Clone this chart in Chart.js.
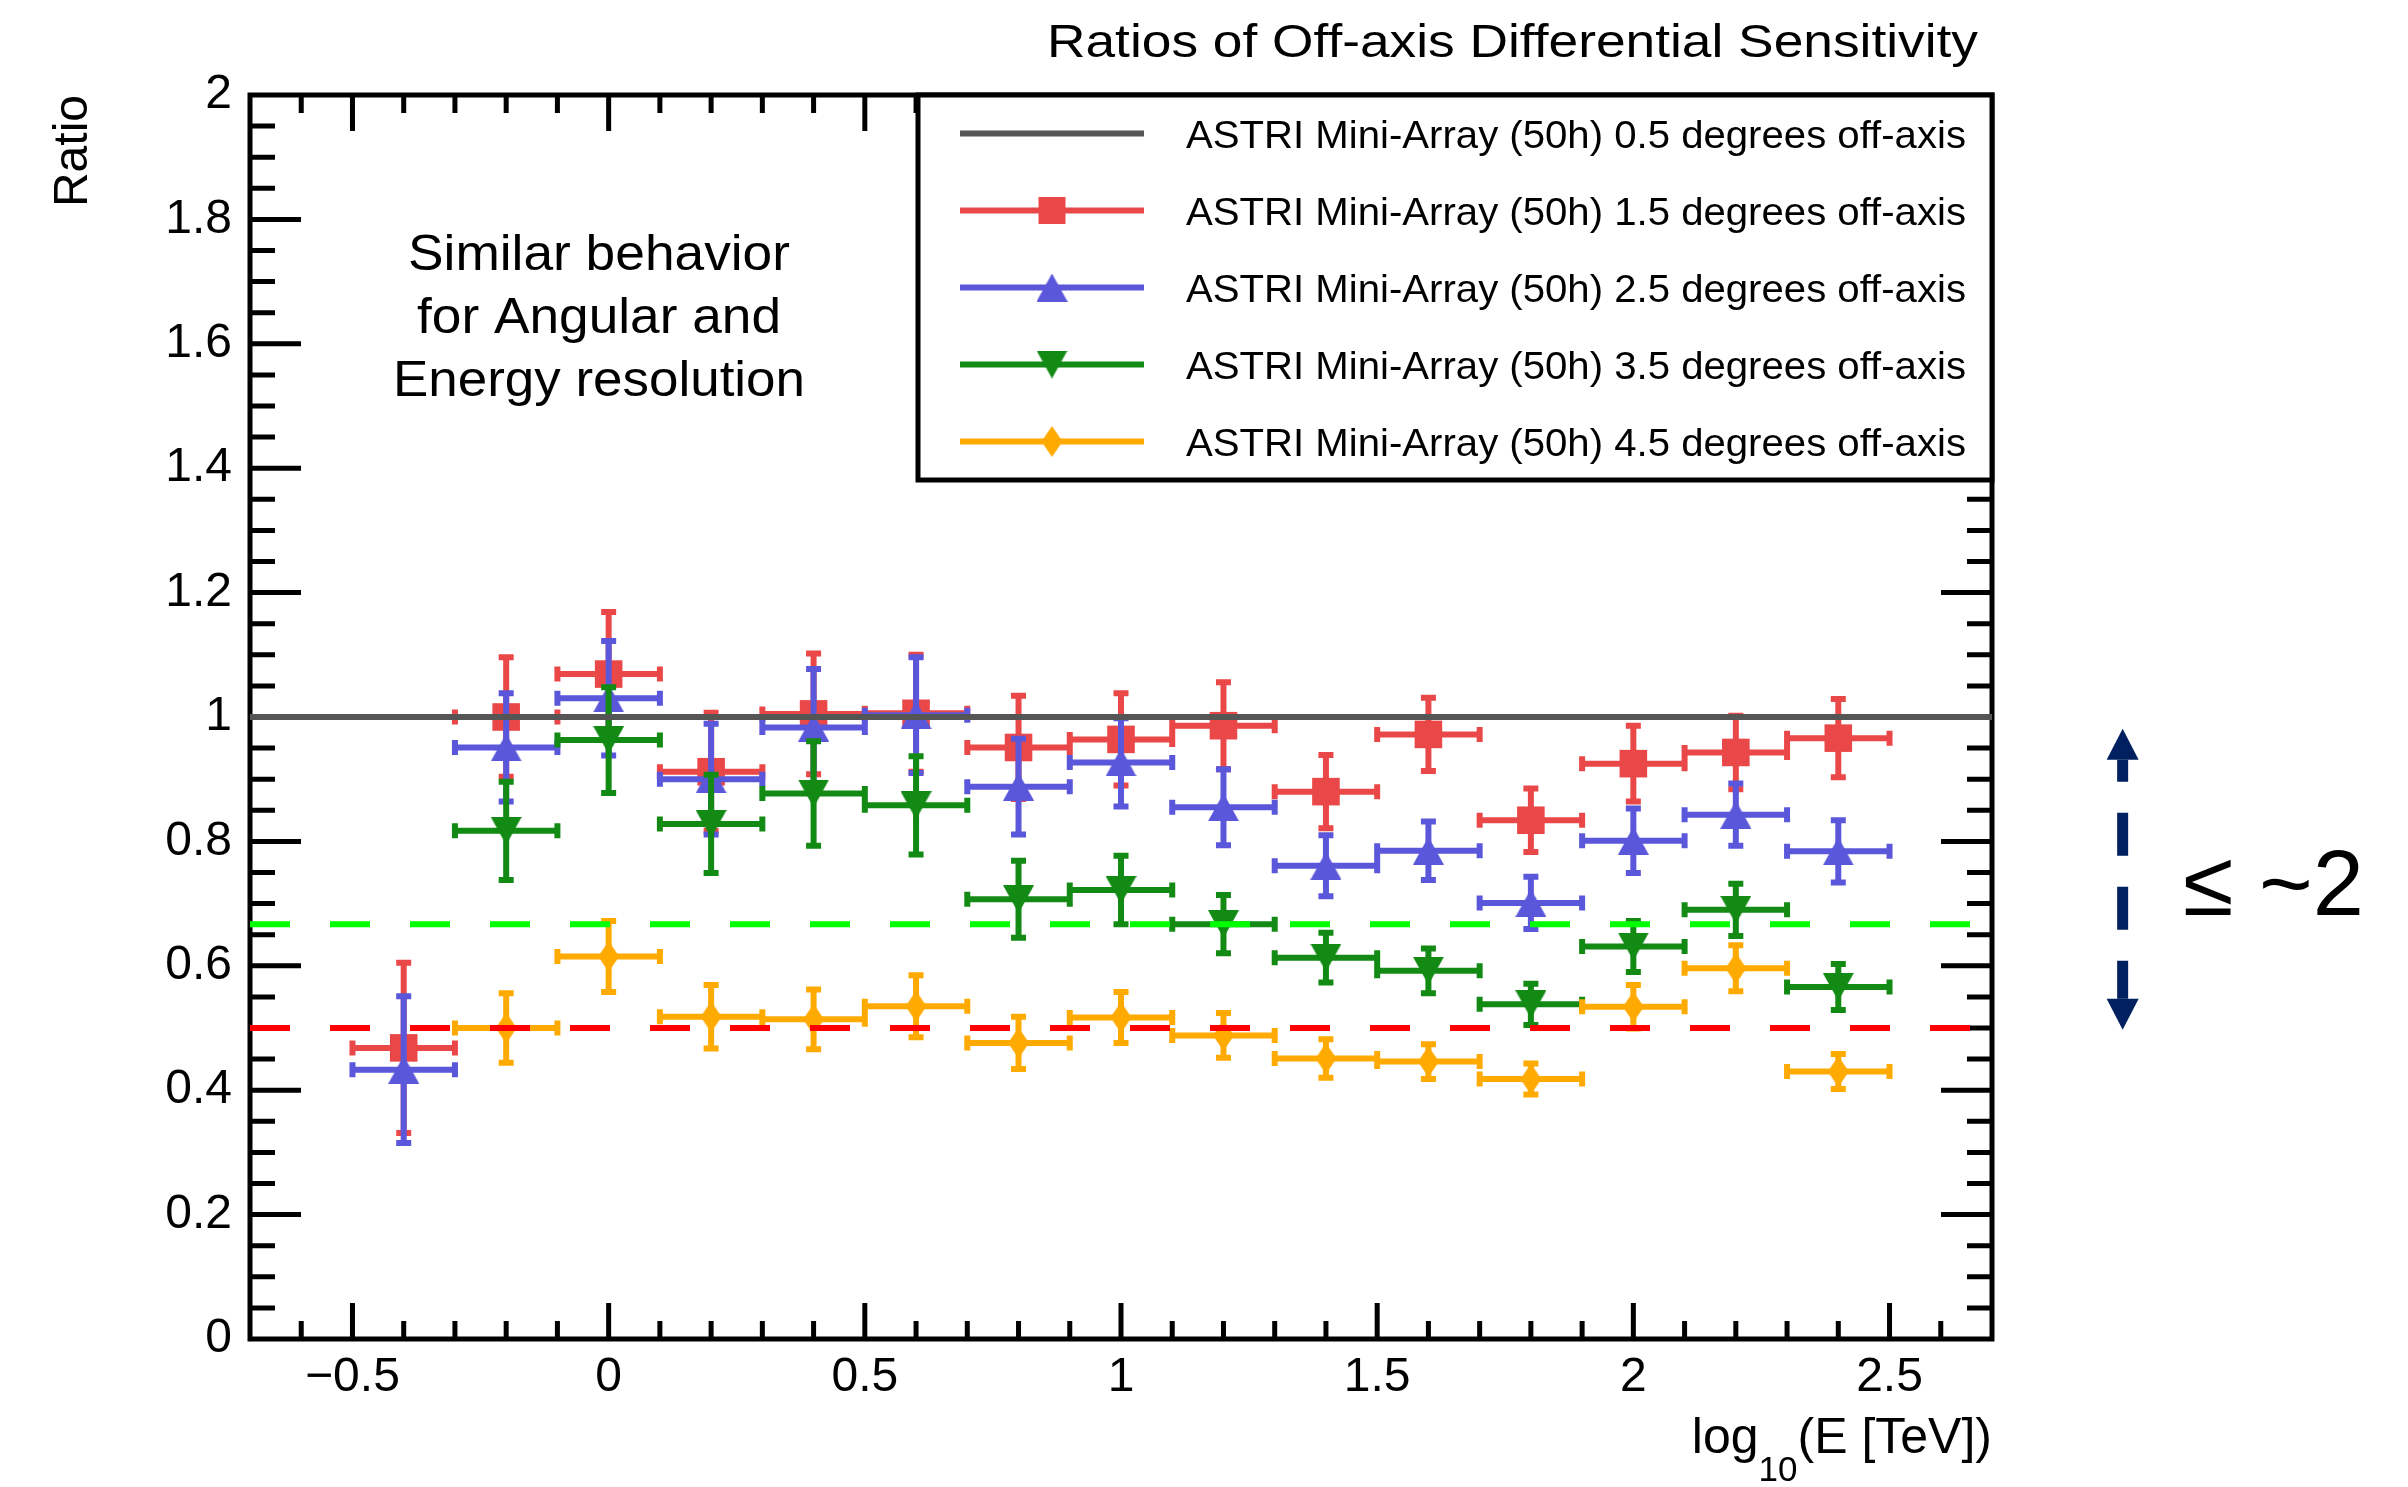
<!DOCTYPE html>
<html>
<head>
<meta charset="utf-8">
<script src="https://cdn.jsdelivr.net/npm/chart.js@4.4.1/dist/chart.umd.min.js"></script>
<style>
  html, body { margin: 0; padding: 0; background: #fff; }
  canvas { display: block; }
</style>
</head>
<body>
<canvas id="ratios" width="2408" height="1487" style="width:2408px;height:1487px"></canvas>
<script>
const FONT = '"Liberation Sans", Arial, Helvetica, sans-serif';

// log10(E/TeV) bin centres; the 3.5 and 4.5 deg series start one bin later
const binsA = [-0.4, -0.2, 0, 0.2, 0.4, 0.6, 0.8, 1, 1.2, 1.4, 1.6, 1.8, 2, 2.2, 2.4];
const binsB = [-0.2, 0, 0.2, 0.4, 0.6, 0.8, 1, 1.2, 1.4, 1.6, 1.8, 2, 2.2, 2.4];
const binHalfWidth = 0.1;

const ratio15 = [0.468, 1.0, 1.069, 0.912, 1.005, 1.006, 0.951, 0.964, 0.986, 0.880, 0.972, 0.834, 0.925, 0.943, 0.966];
const err15   = [0.137, 0.096, 0.100, 0.095, 0.097, 0.094, 0.083, 0.074, 0.070, 0.059, 0.059, 0.051, 0.061, 0.059, 0.063];
const ratio25 = [0.433, 0.951, 1.030, 0.900, 0.983, 1.003, 0.888, 0.927, 0.855, 0.761, 0.785, 0.701, 0.801, 0.843, 0.784];
const err25   = [0.118, 0.087, 0.092, 0.089, 0.094, 0.093, 0.077, 0.071, 0.061, 0.049, 0.047, 0.042, 0.052, 0.050, 0.050];
const ratio35 = [0.817, 0.963, 0.828, 0.877, 0.858, 0.707, 0.722, 0.667, 0.613, 0.592, 0.538, 0.631, 0.690, 0.566];
const err35   = [0.079, 0.085, 0.079, 0.084, 0.079, 0.062, 0.055, 0.047, 0.040, 0.036, 0.033, 0.041, 0.042, 0.037];
const ratio45 = [0.500, 0.615, 0.518, 0.514, 0.535, 0.476, 0.517, 0.488, 0.451, 0.446, 0.418, 0.534, 0.596, 0.430];
const err45   = [0.056, 0.057, 0.051, 0.048, 0.050, 0.042, 0.041, 0.036, 0.031, 0.028, 0.025, 0.035, 0.037, 0.028];

const refSpan = [-0.7, 2.7];
const refLevel = 1;
const guideLevels = [0.667, 0.5];

const seriesLabels = [
  'ASTRI Mini-Array (50h) 0.5 degrees off-axis',
  'ASTRI Mini-Array (50h) 1.5 degrees off-axis',
  'ASTRI Mini-Array (50h) 2.5 degrees off-axis',
  'ASTRI Mini-Array (50h) 3.5 degrees off-axis',
  'ASTRI Mini-Array (50h) 4.5 degrees off-axis'
];
const xTickValues = [-0.5, 0, 0.5, 1, 1.5, 2, 2.5];
const xTickLabels = ['\u22120.5', '0', '0.5', '1', '1.5', '2', '2.5'];
const yTickValues = [0, 0.2, 0.4, 0.6, 0.8, 1, 1.2, 1.4, 1.6, 1.8, 2];
const yTickLabels = ['0', '0.2', '0.4', '0.6', '0.8', '1', '1.2', '1.4', '1.6', '1.8', '2'];

const titleText = 'Ratios of Off-axis Differential Sensitivity';
const noteLines = ['Similar behavior', 'for Angular and', 'Energy resolution'];
const spreadText = '\u2264 ~2';
const spreadArrow = { x: 2.955, from: 0.497, to: 0.981 };

const GREY = '#555555', RED = '#ea4848', BLUE = '#5b57da', GREEN = '#128a14', ORANGE = '#ffaa00';
const NAVY = '#002060';

function markerImage(w, h, shape, color) {
  const cv = document.createElement('canvas');
  cv.width = w; cv.height = h;
  const g = cv.getContext('2d');
  g.fillStyle = color;
  g.beginPath();
  shape.forEach(([px, py], i) => i ? g.lineTo(px * w, py * h) : g.moveTo(px * w, py * h));
  g.closePath();
  g.fill();
  return cv;
}
const triUp = markerImage(31, 28, [[0.5, 0], [1, 1], [0, 1]], BLUE);
const triDown = markerImage(31, 28, [[0, 0], [1, 0], [0.5, 1]], GREEN);
const diamond = markerImage(21, 31, [[0.5, 0], [1, 0.5], [0.5, 1], [0, 0.5]], ORANGE);

const pts = (xs, ys) => xs.map((x, i) => ({ x, y: ys[i] }));
const flat = level => [{ x: refSpan[0], y: level }, { x: refSpan[1], y: level }];

function stretchText(c, text, x, y, size, width, align) {
  c.save();
  c.font = size + 'px ' + FONT;
  const k = width / c.measureText(text).width;
  c.translate(x, y);
  c.scale(k, 1);
  c.textAlign = align;
  c.textBaseline = 'alphabetic';
  c.fillText(text, 0, 0);
  c.restore();
}

// error bars with end caps, drawn just before each series' markers
const errorBars = {
  id: 'errorBars',
  beforeDatasetDraw(chart, args) {
    const ds = chart.data.datasets[args.index];
    if (!ds.err) return;
    const xs = chart.scales.x, ys = chart.scales.y, c = chart.ctx;
    const cap = 7.5;
    c.save();
    c.strokeStyle = ds.barColor;
    c.lineWidth = 6;
    c.beginPath();
    ds.data.forEach((p, i) => {
      const px = xs.getPixelForValue(p.x), py = ys.getPixelForValue(p.y);
      const xl = xs.getPixelForValue(p.x - binHalfWidth), xr = xs.getPixelForValue(p.x + binHalfWidth);
      const yt = ys.getPixelForValue(p.y + ds.err[i]), yb = ys.getPixelForValue(p.y - ds.err[i]);
      c.moveTo(xl, py); c.lineTo(xr, py);
      c.moveTo(px, yt); c.lineTo(px, yb);
      c.moveTo(xl, py - cap); c.lineTo(xl, py + cap);
      c.moveTo(xr, py - cap); c.lineTo(xr, py + cap);
      c.moveTo(px - cap, yt); c.lineTo(px + cap, yt);
      c.moveTo(px - cap, yb); c.lineTo(px + cap, yb);
    });
    c.stroke();
    c.restore();
  }
};

// ROOT-style frame with inward ticks on all four sides
const frame = {
  id: 'frame',
  beforeDatasetsDraw(chart) {
    const { left, right, top, bottom } = chart.chartArea;
    const xs = chart.scales.x, ys = chart.scales.y, c = chart.ctx;
    c.save();
    c.strokeStyle = '#000';
    c.lineWidth = 5;
    c.beginPath();
    for (let k = -6; k <= 26; k++) {
      const px = xs.getPixelForValue(k / 10);
      const len = k % 5 === 0 ? 36 : 18;
      c.moveTo(px, bottom); c.lineTo(px, bottom - len);
      c.moveTo(px, top); c.lineTo(px, top + len);
    }
    for (let k = 1; k <= 39; k++) {
      const py = ys.getPixelForValue(k * 0.05);
      const len = k % 4 === 0 ? 51 : 25;
      c.moveTo(left, py); c.lineTo(left + len, py);
      c.moveTo(right, py); c.lineTo(right - len, py);
    }
    c.stroke();
    c.strokeRect(left, top, right - left, bottom - top);
    c.restore();
  }
};

const overlay = {
  id: 'overlay',
  afterDraw(chart) {
    const { left, right, top, bottom } = chart.chartArea;
    const xs = chart.scales.x, ys = chart.scales.y, c = chart.ctx;
    c.save();
    c.fillStyle = '#000';

    // legend box
    const lx = 918, lb = 480, rowH = (lb - top) / 5;
    c.fillStyle = '#fff';
    c.fillRect(lx, top, right - lx, lb - top);
    c.strokeStyle = '#000';
    c.lineWidth = 5;
    c.strokeRect(lx, top, right - lx, lb - top);
    chart.data.datasets.filter(d => d.label).forEach((ds, i) => {
      const y = top + rowH * (i + 0.5);
      c.strokeStyle = ds.barColor || ds.borderColor;
      c.lineWidth = 6;
      c.beginPath(); c.moveTo(960, y); c.lineTo(1144, y); c.stroke();
      const st = ds.pointStyle;
      if (st && typeof st === 'object') {
        c.drawImage(st, 1052 - st.width / 2, y - st.height / 2);
      } else if (st === 'rect') {
        c.fillStyle = ds.backgroundColor;
        c.fillRect(1052 - 13.5, y - 13.5, 27, 27);
      }
      c.fillStyle = '#000';
      stretchText(c, ds.label, 1186, y + 14, 39, 780, 'left');
    });

    // title
    stretchText(c, titleText, 1978, 57, 46, 931, 'right');

    // note inside plot
    const noteW = [382, 364, 412];
    noteLines.forEach((t, i) => stretchText(c, t, 599, 270 + i * 63, 50, noteW[i], 'center'));

    // y title
    c.save();
    c.translate(87, top);
    c.rotate(-Math.PI / 2);
    c.font = '48px ' + FONT;
    c.textAlign = 'right';
    c.textBaseline = 'alphabetic';
    c.fillText('Ratio', 0, 0);
    c.restore();

    // x title: log10(E [TeV]) right aligned at the axis end
    c.font = '50px ' + FONT;
    const wLog = c.measureText('log').width, wRest = c.measureText('(E [TeV])').width;
    c.font = '35px ' + FONT;
    const wSub = c.measureText('10').width;
    const tx = right - (wLog + wSub + wRest);
    c.textAlign = 'left';
    c.font = '50px ' + FONT;
    c.fillText('log', tx, 1453);
    c.font = '35px ' + FONT;
    c.fillText('10', tx + wLog, 1481);
    c.font = '50px ' + FONT;
    c.fillText('(E [TeV])', tx + wLog + wSub, 1453);

    // dashed double arrow and spread label
    const ax = xs.getPixelForValue(spreadArrow.x);
    const yTop = ys.getPixelForValue(spreadArrow.to), yBot = ys.getPixelForValue(spreadArrow.from);
    const head = 31, half = 16;
    c.fillStyle = NAVY;
    c.strokeStyle = NAVY;
    c.beginPath(); c.moveTo(ax, yTop); c.lineTo(ax + half, yTop + head); c.lineTo(ax - half, yTop + head); c.closePath(); c.fill();
    c.beginPath(); c.moveTo(ax, yBot); c.lineTo(ax + half, yBot - head); c.lineTo(ax - half, yBot - head); c.closePath(); c.fill();
    c.lineWidth = 11;
    c.setLineDash([43, 31]);
    c.lineDashOffset = 21;
    c.beginPath(); c.moveTo(ax, yTop + head); c.lineTo(ax, yBot - head); c.stroke();
    c.setLineDash([]);
    c.fillStyle = '#000';
    stretchText(c, spreadText, 2183, 915, 92, 181, 'left');

    c.restore();
  }
};

new Chart(document.getElementById('ratios'), {
  type: 'scatter',
  data: {
    datasets: [
      { label: seriesLabels[0], type: 'line', data: flat(refLevel), borderColor: GREY, borderWidth: 6, pointRadius: 0, order: 1 },
      { label: seriesLabels[1], data: pts(binsA, ratio15), err: err15, barColor: RED, pointStyle: 'rect', pointRadius: 19.5, backgroundColor: RED, borderWidth: 0, order: 5 },
      { label: seriesLabels[2], data: pts(binsA, ratio25), err: err25, barColor: BLUE, pointStyle: triUp, pointRadius: 15, backgroundColor: BLUE, borderWidth: 0, order: 4 },
      { label: seriesLabels[3], data: pts(binsB, ratio35), err: err35, barColor: GREEN, pointStyle: triDown, pointRadius: 15, backgroundColor: GREEN, borderWidth: 0, order: 3 },
      { label: seriesLabels[4], data: pts(binsB, ratio45), err: err45, barColor: ORANGE, pointStyle: diamond, pointRadius: 15, backgroundColor: ORANGE, borderWidth: 0, order: 2 },
      { type: 'line', data: flat(guideLevels[0]), borderColor: '#00ff00', borderWidth: 6, borderDash: [40, 40], pointRadius: 0, order: 0 },
      { type: 'line', data: flat(guideLevels[1]), borderColor: '#ff0000', borderWidth: 6, borderDash: [40, 40], pointRadius: 0, order: 0 }
    ]
  },
  options: {
    responsive: false,
    animation: false,
    events: [],
    layout: { padding: { top: 95, right: 416, left: 0, bottom: 0 } },
    plugins: { legend: { display: false }, tooltip: { enabled: false }, title: { display: false } },
    scales: {
      x: {
        type: 'linear', min: refSpan[0], max: refSpan[1],
        grid: { display: false, drawTicks: false },
        border: { display: false },
        afterBuildTicks: s => { s.ticks = xTickValues.map(v => ({ value: v })); },
        afterFit: s => { s.height = 148; },
        ticks: {
          callback: (v, i) => xTickLabels[i],
          font: { family: FONT, size: 48 }, color: '#000',
          padding: 10, maxRotation: 0, autoSkip: false
        }
      },
      y: {
        type: 'linear', min: 0, max: 2,
        grid: { display: false, drawTicks: false },
        border: { display: false },
        afterBuildTicks: s => { s.ticks = yTickValues.map(v => ({ value: v })); },
        afterFit: s => { s.width = 250; },
        ticks: {
          callback: (v, i) => yTickLabels[i],
          font: { family: FONT, size: 48 }, color: '#000',
          padding: 18, autoSkip: false
        }
      }
    }
  },
  plugins: [frame, errorBars, overlay]
});
</script>
</body>
</html>
